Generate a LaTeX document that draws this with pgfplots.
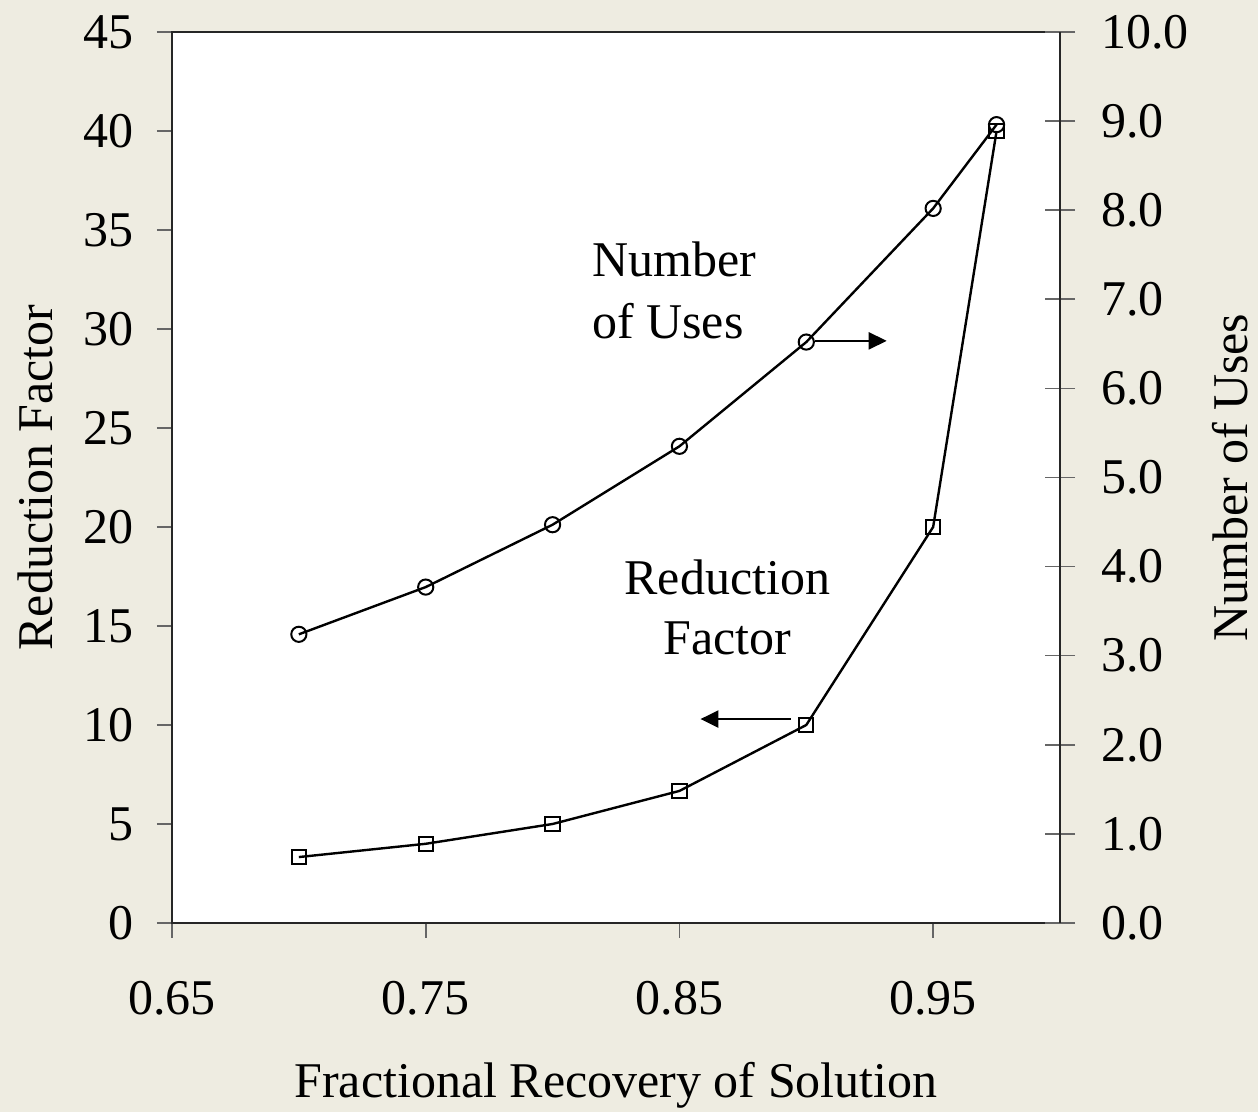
\documentclass[border=0pt]{standalone}
\usepackage{fontspec}
\setmainfont{Liberation Serif}
\usepackage{pgfplots}
\pgfplotsset{compat=1.18}
\usetikzlibrary{arrows.meta}
\definecolor{bg}{HTML}{EEECE1}
\begin{document}
\begin{tikzpicture}
\path[use as bounding box, fill=bg] (0,0) rectangle (629pt,556pt);
\begin{axis}[
  at={(86pt,94.5pt)}, anchor=south west,
  scale only axis, width=444pt, height=445.5pt,
  xmin=0.65, xmax=1.0, ymin=0, ymax=45,
  xtick={0.65,0.75,0.85,0.95}, ytick={0,5,...,45},
  xtick pos=bottom, ytick pos=left,
  tick align=outside,
  major tick length=7.5pt,
  axis background/.style={fill=white},
  axis line style={black!85, line width=1pt},
  tick style={black!60, line width=0.8pt},
  font=\fontsize{25}{30}\selectfont,
  ticklabel style={/pgf/number format/assume math mode=true},
  xticklabel style={yshift=-18pt, /pgf/number format/.cd, fixed, fixed zerofill, precision=2},
  yticklabel style={xshift=-8pt, /pgf/number format/.cd, fixed, precision=0},
  xlabel={Fractional Recovery of Solution},
  ylabel={Reduction Factor},
  xlabel style={at={(axis description cs:0.5,-0.182)}, anchor=center},
  ylabel style={at={(axis description cs:-0.154,0.5)}, anchor=center},
  clip=false,
]
\addplot[black, line width=1.2pt, mark=square, mark size=3.6pt, mark options={solid, line width=1pt}]
  coordinates {(0.70,3.33) (0.75,4) (0.80,5) (0.85,6.67) (0.90,10) (0.95,20) (0.975,40)};
\draw[-{Triangle[length=9pt,width=8.5pt]}, line width=1.2pt] (axis cs:0.9035,29.4) -- (axis cs:0.9317,29.4);
\draw[-{Triangle[length=9pt,width=8.5pt]}, line width=1.2pt] (axis cs:0.8938,10.3) -- (axis cs:0.8583,10.3);
\node[align=left, anchor=west, font=\fontsize{25}{31}\selectfont] at (axis cs:0.8128,31.97) {Number\\of Uses};
\node[align=center, font=\fontsize{25}{30}\selectfont] at (axis cs:0.8689,15.96) {Reduction\\Factor};
\end{axis}
\begin{axis}[
  at={(86pt,94.5pt)}, anchor=south west,
  scale only axis, width=444pt, height=445.5pt,
  xmin=0.65, xmax=1.0, ymin=0, ymax=10,
  axis x line=none, axis y line*=right,
  ytick={0,1,...,10},
  tick align=center,
  major tick length=15pt,
  axis line style={black!85, line width=1pt},
  tick style={black!60, line width=0.8pt},
  font=\fontsize{25}{30}\selectfont,
  ticklabel style={/pgf/number format/assume math mode=true},
  yticklabel style={xshift=9.5pt, /pgf/number format/.cd, fixed, fixed zerofill, precision=1},
  ylabel={Number of Uses},
  ylabel style={at={(axis description cs:1.192,0.5)}, anchor=center, rotate=0},
  clip=false,
]
\addplot[black, line width=1.2pt, mark=o, mark size=3.8pt, mark options={solid, line width=1pt}]
  coordinates {(0.70,3.24) (0.75,3.77) (0.80,4.47) (0.85,5.35) (0.90,6.52) (0.95,8.02) (0.975,8.96)};
\end{axis}
\end{tikzpicture}
\end{document}
